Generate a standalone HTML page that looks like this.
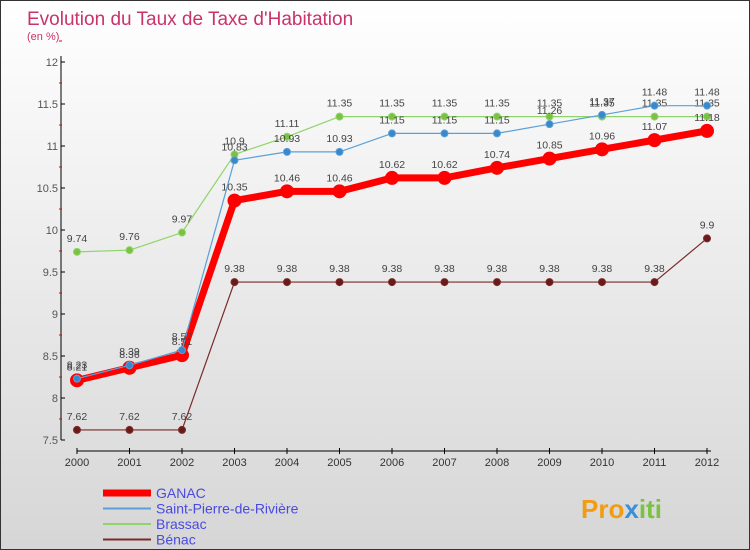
<!DOCTYPE html>
<html><head><meta charset="utf-8"><style>
body{margin:0}
#c{width:750px;height:550px;position:relative;box-sizing:border-box;border:1px solid #333;background:linear-gradient(#ffffff,#d6d6d6);font-family:"Liberation Sans",sans-serif;overflow:hidden}
svg text{font-family:"Liberation Sans",sans-serif}
</style></head><body>
<div id="c">
<svg id="s" width="750" height="550">
<text x="26" y="24" font-size="19" fill="#c8336a">Evolution du Taux de Taxe d'Habitation</text>
<text x="26" y="39" font-size="11" fill="#c8336a">(en %)</text>
<text x="580" y="517" font-size="26" font-weight="bold" fill="#f39c12">Pro<tspan fill="#3a8fd8">x</tspan><tspan fill="#7cc242">iti</tspan></text>
</svg>
</div>
<script>
const years=["2000","2001","2002","2003","2004","2005","2006","2007","2008","2009","2010","2011","2012"];
const ganac=[8.21,8.36,8.51,10.35,10.46,10.46,10.62,10.62,10.74,10.85,10.96,11.07,11.18];
const stPierre=[8.23,8.39,8.57,10.83,10.93,10.93,11.15,11.15,11.15,11.26,11.37,11.48,11.48];
const brassac=[9.74,9.76,9.97,10.9,11.11,11.35,11.35,11.35,11.35,11.35,11.35,11.35,11.35];
const benac=[7.62,7.62,7.62,9.38,9.38,9.38,9.38,9.38,9.38,9.38,9.38,9.38,9.9];
const yTicks=[7.5,8,8.5,9,9.5,10,10.5,11,11.5,12];
const names=["GANAC","Saint-Pierre-de-Rivière","Brassac","Bénac"];
const NS="http://www.w3.org/2000/svg";
const svg=document.getElementById('s');
const X=i=>76+i*52.5;
const Y=v=>397-(v-8)*84;
function mk(t,a,p){const e=document.createElementNS(NS,t);for(const k in a)e.setAttribute(k,a[k]);(p||svg).appendChild(e);return e;}
// axes
let ax=mk('line',{x1:60,y1:55,x2:60,y2:439,stroke:'#000'});


let bx=mk('line',{x1:76,y1:450,x2:710,y2:450,stroke:'#000'});


yTicks.forEach(v=>{
 mk('line',{x1:60,y1:Y(v),x2:64,y2:Y(v),stroke:'#000'});
 mk('line',{x1:58,y1:Y(v+0.25),x2:61,y2:Y(v+0.25),stroke:'#e00'});
 const t=mk('text',{x:57,y:Y(v)+4,'font-size':11,fill:'#555','text-anchor':'end'});
 t.textContent=String(v);
 
 
});
years.forEach((y,i)=>{
 mk('line',{x1:X(i),y1:447,x2:X(i),y2:453,stroke:'#000'});
 const t=mk('text',{x:X(i),y:465,'font-size':11,fill:'#333','text-anchor':'middle'});
 t.textContent=y;
 
 
});
function series(data,color,lw,r,dot,name){
 const g=mk('g',{});
 
 
 mk('polyline',{points:data.map((v,i)=>X(i)+','+Y(v)).join(' '),fill:'none',stroke:color,'stroke-width':lw,'stroke-linejoin':'round'},g);
 data.forEach((v,i)=>{
  const c=mk('circle',{cx:X(i),cy:Y(v),r:r,fill:dot,stroke:color,'stroke-width':1},g);
  
  
  const t=mk('text',{x:X(i),y:Y(v)-10,'font-size':10.5,fill:'#444','text-anchor':'middle'},g);
  t.textContent=String(v);
 });
}
series(benac,'#7a2a2a',1.2,3.5,'#6b1a1a','series-benac');
series(brassac,'#8fd46b',1.2,3.5,'#7cc242','series-brassac');
series(ganac,'#ff0000',7,6.5,'#ff0000','series-ganac');
series(stPierre,'#5aa0d8',1.2,3.5,'#3a88cc','series-saint-pierre');
const lc=[['#ff0000',7],['#5aa0d8',2],['#8fd46b',2],['#7a2a2a',2]];
names.forEach((n,i)=>{
 const y=492+i*15.5;
 const l=mk('line',{x1:102,y1:y,x2:150,y2:y,stroke:lc[i][0],'stroke-width':lc[i][1]});
 
 
 const t=mk('text',{x:155,y:y+5,'font-size':14,fill:'#4a4ae0'});
 t.textContent=n;
 
 
});
</script>
</body></html>
